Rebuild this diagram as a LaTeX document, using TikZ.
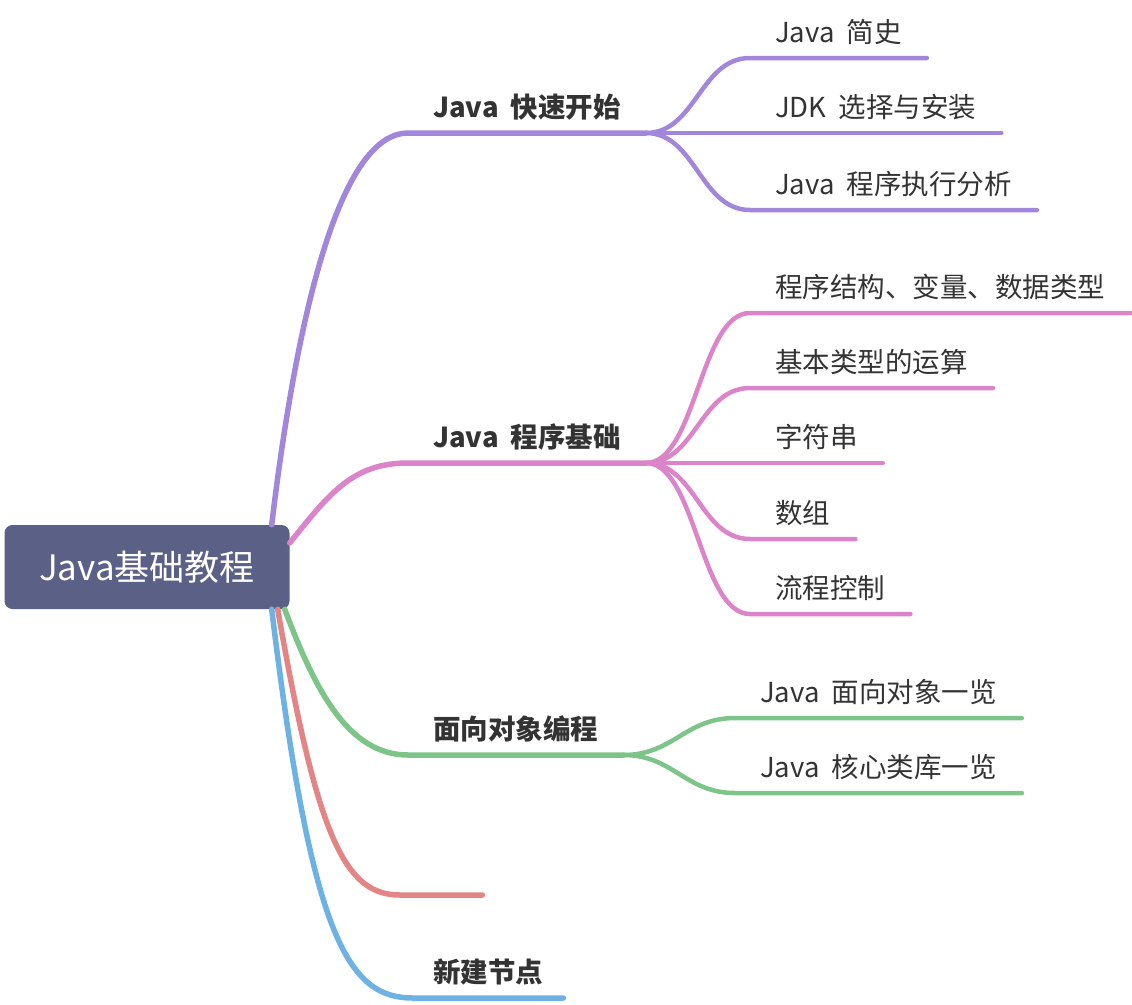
\documentclass[tikz,border=0pt]{standalone}
\usepackage{fontspec}
\setmainfont{Noto Sans CJK SC}
\usepackage{tikz}
\usetikzlibrary{positioning}

\definecolor{rootblue}{HTML}{5B6086}
\definecolor{txtgray}{HTML}{333333}
\definecolor{quickpurple}{HTML}{A286DC}
\definecolor{basepink}{HTML}{DB84C9}
\definecolor{oopgreen}{HTML}{7DC488}
\definecolor{emptyred}{HTML}{E48585}
\definecolor{newblue}{HTML}{6DB2E2}

\newcommand{\widegap}{\spaceskip=12pt\relax}

\begin{document}
\begin{tikzpicture}[x=1pt, y=-1pt,
  root/.style={fill=rootblue, text=white, rounded corners=8pt, minimum width=285pt, minimum height=84pt, font=\fontsize{35}{42}\selectfont},
  topic/.style={anchor=south west, inner xsep=25pt, inner ysep=0pt, text height=20pt, text depth=15pt, text=txtgray, font=\fontsize{27.5}{33}\selectfont\bfseries\widegap},
  leaf/.style={anchor=south west, inner xsep=25pt, inner ysep=0pt, text height=20pt, text depth=15pt, text=txtgray, font=\fontsize{27.5}{33}\selectfont\widegap},
  branch/.style={line width=5.5pt, line cap=round},
  twig/.style={line width=4.5pt, line cap=round}]

\useasboundingbox (0,0) rectangle (1132,1004);

% Central topic
\node[root] (root) at (147,567) {Java基础教程};

% Java 快速开始
\node[topic] (quick) at (408,133) {Java 快速开始};
\draw[branch, quickpurple] ([xshift=-18pt]root.north east) .. controls +(30,-250) and +(-60,0) .. (quick.south west) -- (quick.south east);

\node[leaf] (history) at (750,58) {Java 简史};
\node[leaf] (jdk) at (750,133) {JDK 选择与安装};
\node[leaf] (exec) at (750,210) {Java 程序执行分析};
\foreach \n in {history,jdk,exec}
  \draw[twig, quickpurple] (quick.south east) .. controls +(50,0) and +(-50,0) .. (\n.south west) -- (\n.south east);

% Java 程序基础
\node[topic] (basics) at (408,463) {Java 程序基础};
\draw[branch, basepink] ([yshift=24pt]root.east) .. controls +(40,-50) and +(-55,0) .. (basics.south west) -- (basics.south east);

\node[leaf] (struct) at (750,313) {程序结构、变量、数据类型};
\node[leaf] (ops) at (750,388) {基本类型的运算};
\node[leaf] (str) at (750,463) {字符串};
\node[leaf] (arr) at (750,539) {数组};
\node[leaf] (flow) at (750,614) {流程控制};
\foreach \n in {struct,ops,str,arr,flow}
  \draw[twig, basepink] (basics.south east) .. controls +(50,0) and +(-50,0) .. (\n.south west) -- (\n.south east);

% 面向对象编程
\node[topic] (oop) at (408,755) {面向对象编程};
\draw[branch, oopgreen] ([xshift=-5pt]root.south east) .. controls +(30,80) and +(-60,0) .. (oop.south west) -- (oop.south east);

\node[leaf] (objlist) at (735,718) {Java 面向对象一览};
\node[leaf] (liblist) at (735,793) {Java 核心类库一览};
\foreach \n in {objlist,liblist}
  \draw[twig, oopgreen] (oop.south east) .. controls +(50,0) and +(-50,0) .. (\n.south west) -- (\n.south east);

% empty topic
\node[topic, inner xsep=0pt, minimum width=82pt] (blank) at (400,895) {};
\draw[branch, emptyred] ([xshift=-12pt]root.south east) .. controls +(40,230) and +(-55,0) .. (blank.south west) -- (blank.south east);

% 新建节点
\node[topic, inner xsep=20pt] (newnode) at (413,998) {新建节点};
\draw[branch, newblue] ([xshift=-18pt]root.south east) .. controls +(40,330) and +(-65,0) .. (newnode.south west) -- (newnode.south east);

\end{tikzpicture}
\end{document}
